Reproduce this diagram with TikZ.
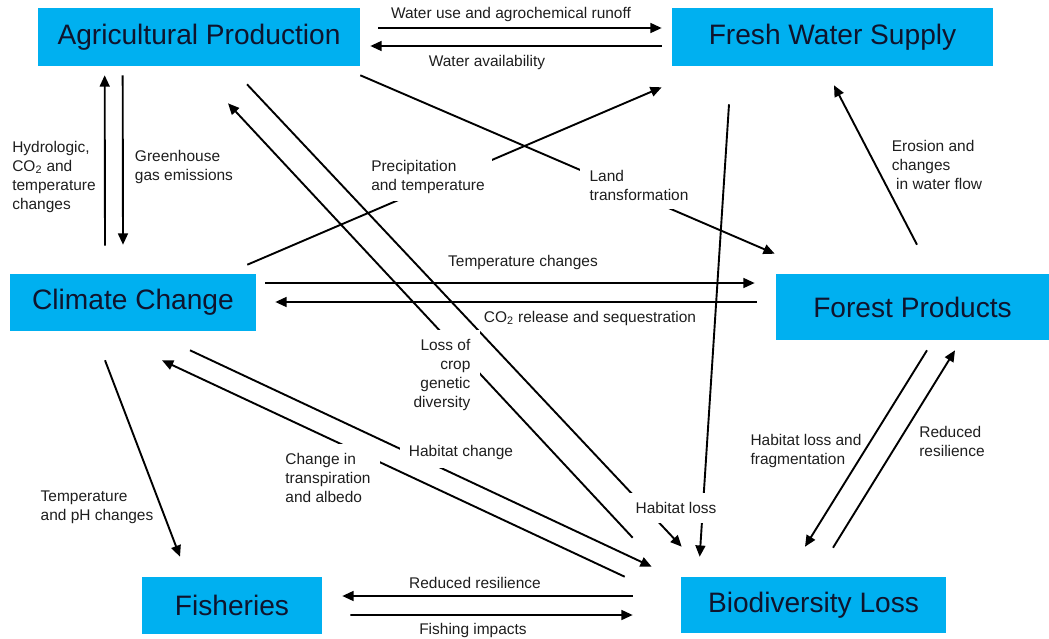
\documentclass[tikz,border=0pt]{standalone}
\usepackage{fontspec}
\setmainfont{Liberation Sans}
\usepackage{tikz}
\usetikzlibrary{arrows.meta, calc}
\definecolor{boxblue}{RGB}{0,176,240}
\definecolor{boxtext}{RGB}{15,20,45}
\definecolor{inkgray}{RGB}{30,30,30}
\tikzset{
  box/.style={rectangle, fill=boxblue, text=boxtext, inner sep=0pt,
    align=center, font=\fontsize{20}{24}\selectfont},
  lbl/.style={align=left, font=\fontsize{11}{13.5}\selectfont,
    text=inkgray, inner sep=1pt},
  gaplbl/.style={lbl, fill=white, inner sep=6.5pt},
  arrow/.style={-{Triangle[length=8pt,width=7pt]}, line width=1.35pt, color=black}
}

\begin{document}
\begin{tikzpicture}[x=0.025cm, y=-0.025cm]
  \useasboundingbox (0,0) rectangle (1049,638);

  % Sectors
  \node[box, minimum width=8.05cm, minimum height=1.45cm] (agri) at (199,37) {Agricultural Production};
  \node[box, minimum width=8.025cm, minimum height=1.45cm] (fws) at (832.5,37) {Fresh Water Supply};
  \node[box, minimum width=6.15cm, minimum height=1.425cm] (clim) at (133,302.5) {Climate Change};
  \node[box, minimum width=6.825cm, minimum height=1.65cm] (forest) at (912.5,307) {Forest Products};
  \node[box, minimum width=4.5cm, minimum height=1.425cm] (fish) at (232,605.5) {Fisheries};
  \node[box, minimum width=6.625cm, minimum height=1.4cm] (bio) at (813.5,605) {Biodiversity Loss};

  % Links
  \draw[arrow] ($(agri.east)+(18,-9)$) -- ($(fws.west)+(-10,-9)$);
  \draw[arrow] ($(fws.west)+(-10,9)$) -- ($(agri.east)+(10,9)$);
  \draw[arrow] ($(clim.north)+(-28,-28)$) -- ($(agri.south west)+(67,9)$);
  \draw[arrow] ($(agri.south west)+(85,9)$) -- ($(clim.north)+(-10,-29)$);
  \draw[arrow] ($(clim.north east)+(-9,-9)$) -- ($(fws.south west)+(-10,21)$);
  \draw[arrow] ($(agri.south east)+(0,9)$) -- ($(forest.north west)+(-1,-20)$);
  \draw[arrow] ($(forest.north)+(4.5,-29)$) -- ($(fws.south)+(1.5,19)$);
  \draw[arrow] ($(clim.east)+(9,-19.5)$) -- ($(forest.west)+(-21,-24)$);
  \draw[arrow] ($(forest.west)+(-19,-5)$) -- ($(clim.east)+(19,-0.5)$);
  \draw[arrow] ($(bio.north west)+(-48,-39)$) -- ($(agri.south)+(29,37)$);
  \draw[arrow] ($(agri.south)+(48,18)$) -- ($(bio.north west)+(1,-30)$);
  \draw[arrow] ($(fws.south)+(-103.5,38)$) -- ($(bio.north west)+(19,-20)$);
  \draw[arrow] ($(forest.south)+(14.5,10)$) -- ($(bio.north)+(-8.5,-30)$);
  \draw[arrow] ($(bio.north)+(19.5,-29)$) -- ($(forest.south)+(42.5,10)$);
  \draw[arrow] ($(clim.south)+(57,19)$) -- ($(bio.north west)+(-29,-10)$);
  \draw[arrow] ($(bio.north west)+(-56,0)$) -- ($(clim.south)+(29,29)$);
  \draw[arrow] ($(clim.south)+(-28,29)$) -- ($(fish.north)+(-52,-20)$);
  \draw[arrow] ($(bio.west)+(-48,-9)$) -- ($(fish.east)+(20,-9.5)$);
  \draw[arrow] ($(fish.east)+(28,9.5)$) -- ($(bio.west)+(-48,10)$);

  % Labels
  \node[lbl] (lwater) at (511,15) {Water use and agrochemical runoff};
  \node[lbl] (lavail) at (487,62) {Water availability};
  \node[lbl] (lhydro) at (54,177) {Hydrologic,\\CO\textsubscript{2} and\\temperature\\changes};
  \node[lbl] (lghg) at (184,167) {Greenhouse\\gas emissions};
  \node[gaplbl, inner sep=5pt] (lprecip) at (428,177) {Precipitation\\and temperature};
  \node[gaplbl] (lland) at (639,185) {Land\\transformation};
  \node[lbl] (lerosion) at (937,165) {Erosion and\\changes\\\ in water flow};
  \node[lbl] (ltemp) at (523,262) {Temperature changes};
  \node[lbl] (lco2) at (590,318) {CO\textsubscript{2} release and sequestration};
  \node[gaplbl, align=right] (lcrop) at (442,375) {Loss of\\crop\\genetic\\diversity};
  \node[gaplbl] (lhabch) at (461,452) {Habitat change};
  \node[gaplbl] (ltransp) at (328,478) {Change in\\transpiration\\and albedo};
  \node[gaplbl] (lhabloss) at (676,508) {Habitat loss};
  \node[lbl] (lfrag) at (806,451) {Habitat loss and\\fragmentation};
  \node[lbl] (lresf) at (952,441) {Reduced\\resilience};
  \node[lbl] (lph) at (97,507) {Temperature\\and pH changes};
  \node[lbl] (lresb) at (475,583) {Reduced resilience};
  \node[lbl] (lfishing) at (473,630) {Fishing impacts};
\end{tikzpicture}
\end{document}
